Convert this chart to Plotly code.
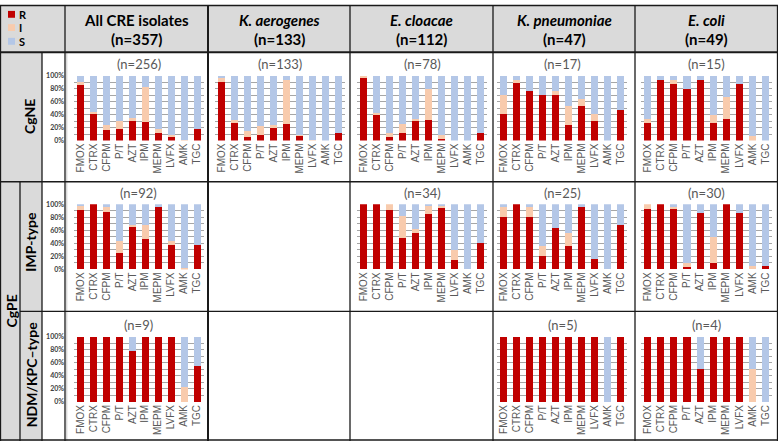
import plotly.graph_objects as go

W, H = 778, 444

drugs = ["FMOX", "CTRX", "CFPM", "P/T", "AZT", "IPM", "MEPM", "LVFX", "AMK", "TGC"]

# % resistant (R) and intermediate (I); S is the rest
cgne_all_r = [85, 42, 16, 18, 32, 28, 11, 7, 0, 17]
cgne_all_i = [5, 2, 8, 12, 3, 54, 6, 1, 1, 0]
cgne_kae_r = [91, 29, 6, 9, 20, 26, 8, 0, 0, 11]
cgne_kae_i = [6, 2, 8, 13, 4, 68, 1, 1, 0, 0]
cgne_ecl_r = [98, 39, 5, 12, 32, 31, 3, 0, 0, 12]
cgne_ecl_i = [2, 4, 7, 13, 1, 49, 5, 0, 0, 0]
cgne_kpn_r = [41.2, 88.2, 76.5, 70.6, 70.6, 23.5, 52.9, 29.4, 0, 47.1]
cgne_kpn_i = [29.4, 5.9, 0, 0, 5.9, 29.4, 11.8, 11.8, 0, 0]
cgne_eco_r = [26.7, 93.3, 86.7, 80, 93.3, 26.7, 33.3, 86.7, 0, 0]
cgne_eco_i = [6.7, 0, 6.7, 0, 0, 13.3, 33.3, 0, 6.7, 0]

imp_all_r = [91, 100, 88, 26, 66, 47, 96, 38, 0, 38]
imp_all_i = [6, 0, 8, 18, 2, 21, 0, 6, 2, 0]
imp_ecl_r = [100, 100, 91.2, 48.5, 55.9, 85.3, 94.1, 14.7, 0, 41.2]
imp_ecl_i = [0, 0, 8.8, 33, 5.9, 11.8, 2.9, 14.7, 0, 0]
imp_kpn_r = [80, 100, 80, 20, 64, 36, 96, 16, 0, 68]
imp_kpn_i = [16, 0, 16, 16, 0, 20, 0, 0, 0, 0]
imp_eco_r = [93.3, 100, 93.3, 3.3, 86.7, 10, 100, 86.7, 0, 5]
imp_eco_i = [6.7, 0, 3.3, 6.7, 0, 40, 0, 0, 5, 0]

ndm_all_r = [100, 100, 100, 100, 77.8, 100, 100, 100, 0, 55.6]
ndm_all_i = [0, 0, 0, 0, 0, 0, 0, 0, 22.2, 0]
ndm_kpn_r = [100, 100, 100, 100, 100, 100, 100, 100, 0, 100]
ndm_kpn_i = [0, 0, 0, 0, 0, 0, 0, 0, 0, 0]
ndm_eco_r = [100, 100, 100, 100, 50, 100, 100, 100, 0, 0]
ndm_eco_i = [0, 0, 0, 0, 0, 0, 0, 0, 50, 0]

col_heads = ["All CRE isolates", "K. aerogenes", "E. cloacae", "K. pneumoniae", "E. coli"]
col_n = ["(n=357)", "(n=133)", "(n=112)", "(n=47)", "(n=49)"]

# (row, col, title, R, I)
panels = [
    (0, 0, "(n=256)", cgne_all_r, cgne_all_i),
    (0, 1, "(n=133)", cgne_kae_r, cgne_kae_i),
    (0, 2, "(n=78)", cgne_ecl_r, cgne_ecl_i),
    (0, 3, "(n=17)", cgne_kpn_r, cgne_kpn_i),
    (0, 4, "(n=15)", cgne_eco_r, cgne_eco_i),
    (1, 0, "(n=92)", imp_all_r, imp_all_i),
    (1, 2, "(n=34)", imp_ecl_r, imp_ecl_i),
    (1, 3, "(n=25)", imp_kpn_r, imp_kpn_i),
    (1, 4, "(n=30)", imp_eco_r, imp_eco_i),
    (2, 0, "(n=9)", ndm_all_r, ndm_all_i),
    (2, 3, "(n=5)", ndm_kpn_r, ndm_kpn_i),
    (2, 4, "(n=4)", ndm_eco_r, ndm_eco_i),
]

RED, PEACH, BLUE = "#C00000", "#F8CBAD", "#B4C7E7"
GRAY_BG = "#DADADA"
FONT = "Lato"


def px(x):
    return x / W


def py(y):
    return 1 - y / H


# pixel geometry: column bounds + plot x-range, row bounds + plot y-range
cols = [(65, 208, 74, 203.5), (208, 350, 215.2, 345.2), (350, 493, 357.2, 487.2),
        (493, 635, 497.2, 626.8), (635, 778, 641.2, 772)]
rows = [(48, 180, 72, 138), (180, 312, 203, 269.3), (312, 444, 337.7, 404.3)]

fig = go.Figure()
layout = {}
annotations = []


def label(text, x, y, size, color="black", bold=True, angle=0, xanchor="center"):
    annotations.append(dict(text=text, x=px(x), y=py(y), xref="paper", yref="paper",
                            showarrow=False, xanchor=xanchor, yanchor="middle",
                            textangle=angle,
                            font=dict(family=FONT, size=size, color=color,
                                      weight="bold" if bold else "normal")))


for k, (ri, ci, title, r, i) in enumerate(panels, start=1):
    s = [round(100 - a - b, 1) for a, b in zip(r, i)]
    xa = "x" if k == 1 else "x%d" % k
    ya = "y" if k == 1 else "y%d" % k
    for name, vals, color in (("R", r, RED), ("I", i, PEACH), ("S", s, BLUE)):
        fig.add_trace(go.Bar(x=drugs, y=vals, name=name, marker_color=color,
                             marker_line_width=0, xaxis=xa, yaxis=ya, showlegend=False))
    cx0, cx1, dx0, dx1 = cols[ci]
    ry0, ry1, dy0, dy1 = rows[ri]
    sfx = "" if k == 1 else str(k)
    layout["xaxis" + sfx] = dict(
        domain=[px(dx0), px(dx1)], anchor=ya, type="category",
        tickangle=-90, tickfont=dict(family="Liberation Sans", size=10, color="#595959"),
        showgrid=False, showline=False, ticks="", fixedrange=True)
    layout["yaxis" + sfx] = dict(
        domain=[py(dy1), py(dy0)], anchor=xa, range=[0, 100],
        tick0=0, dtick=20, ticksuffix="%", showticklabels=(ci == 0),
        ticklabelstandoff=9,
        tickfont=dict(family=FONT, size=7, color="#404040", weight="bold"),
        showgrid=True, gridcolor="#A6A6A6", gridwidth=1,
        minor=dict(dtick=10, showgrid=True, gridcolor="#A6A6A6", gridwidth=1),
        zeroline=False, showline=False, ticks="", fixedrange=True)
    label(title, (dx0 + dx1) / 2, dy0 - 12, 13, "#595959", bold=False)

# column headers
for ci, (head, n) in enumerate(zip(col_heads, col_n)):
    cx0, cx1 = cols[ci][0], cols[ci][1]
    head_txt = head if ci == 0 else "<i>%s</i>" % head
    label(head_txt, (cx0 + cx1) / 2, 15, 15)
    label(n, (cx0 + cx1) / 2, 35, 15)

# row labels
for txt, x, y in (("CgNE", 30, 114), ("CgPE", 11, 312),
                  ("IMP-type", 31, 241), ("NDM/KPC\u2013type", 31, 377)):
    label(txt, x, y, 14, angle=-90)

# legend
shapes = [
    dict(type="rect", xref="paper", yref="paper", x0=0, x1=1, y0=py(48), y1=1,
         fillcolor=GRAY_BG, line=dict(width=0), layer="below"),
    dict(type="rect", xref="paper", yref="paper", x0=0, x1=px(42), y0=0, y1=py(48),
         fillcolor=GRAY_BG, line=dict(width=0), layer="below"),
]
for lab, color, yc in (("R", RED, 9.5), ("I", PEACH, 23), ("S", BLUE, 37)):
    shapes.append(dict(type="rect", xref="paper", yref="paper",
                       x0=px(8), x1=px(15), y0=py(yc + 3.5), y1=py(yc - 3.5),
                       fillcolor=color, line=dict(width=0)))
    label(lab, 17, yc, 11, xanchor="left")


def hline(y, x0, x1, w=1.3, c="#1a1a1a"):
    shapes.append(dict(type="line", xref="paper", yref="paper", x0=px(x0), x1=px(x1),
                       y0=py(y), y1=py(y), line=dict(color=c, width=w)))


def vline(x, y0, y1, w=1.3, c="#1a1a1a"):
    shapes.append(dict(type="line", xref="paper", yref="paper", x0=px(x), x1=px(x),
                       y0=py(y0), y1=py(y1), line=dict(color=c, width=w)))


vline(66.8, 48, 444, 1, "#C8C8C8")
hline(0.5, 0, 778)
hline(48, 0, 778, 2)
hline(180, 0, 778)
hline(312, 20, 778)
hline(443, 0, 778)
vline(0.5, 0, 444)
vline(20, 180, 444)
vline(42, 48, 444)
vline(65, 0, 444)
vline(208, 0, 444, 2)
for x in (350, 493, 635):
    vline(x, 0, 444)
vline(777.5, 0, 444)

layout.update(dict(
    width=W, height=H, margin=dict(l=0, r=0, t=0, b=0),
    paper_bgcolor="white", plot_bgcolor="white",
    barmode="stack", bargap=0.46,
    annotations=annotations, shapes=shapes, showlegend=False,
))
fig.update_layout(**layout)
fig.write_html("out.html", config={"displayModeBar": False},
               post_script="document.body.style.margin='0';document.body.style.overflow='hidden';")
